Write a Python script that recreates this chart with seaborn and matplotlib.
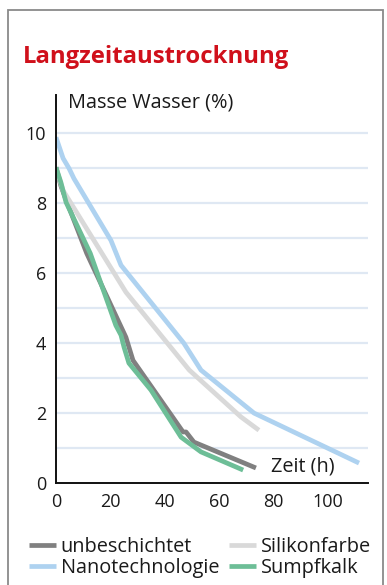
import pandas as pd
import seaborn as sns
import matplotlib.pyplot as plt
from matplotlib.patches import Rectangle

# Masse Wasser (%) ueber Zeit (h)
unbeschichtet_x = [0, 1.8, 3.7, 11.3, 25.7, 28.3, 46.7, 47.8, 50.7, 73.5]
unbeschichtet_y = [9.03, 8.5, 8.1, 6.57, 4.17, 3.51, 1.46, 1.46, 1.17, 0.43]

silikon_x = [0, 2.6, 25.7, 49, 68, 74.6]
silikon_y = [9.0, 8.37, 5.46, 3.23, 1.89, 1.51]

nano_x = [0, 2.6, 4.8, 6.6, 20.2, 23.9, 47, 53.3, 72.8, 111.4]
nano_y = [9.89, 9.29, 9.0, 8.71, 6.94, 6.23, 4.0, 3.23, 2.0, 0.57]

sumpf_x = [0, 1.8, 3.7, 12.6, 22, 23.9, 25, 26.8, 34.9, 46, 53.3, 68.8]
sumpf_y = [9.03, 8.6, 8.03, 6.57, 4.51, 4.23, 3.89, 3.43, 2.66, 1.31, 0.89, 0.37]

series = ["unbeschichtet", "Silikonfarbe", "Nanotechnologie", "Sumpfkalk"]
colors = ["#808080", "#d9d9d9", "#aed2f0", "#6dbe97"]
legend_order = ["unbeschichtet", "Nanotechnologie", "Silikonfarbe", "Sumpfkalk"]

y_ticks = [0, 2, 4, 6, 8, 10]
x_ticks = [0, 20, 40, 60, 80, 100]

frames = []
for name, xs, ys in zip(series,
                        [unbeschichtet_x, silikon_x, nano_x, sumpf_x],
                        [unbeschichtet_y, silikon_y, nano_y, sumpf_y]):
    frames.append(pd.DataFrame({"Zeit": xs, "Masse": ys, "Serie": name}))
df = pd.concat(frames, ignore_index=True)

sns.set_style("white")
plt.rcParams["font.family"] = ["Open Sans", "DejaVu Sans"]

fig = plt.figure(figsize=(3.87, 5.85), dpi=100)
ax = fig.add_axes([56 / 387, 102 / 585, 312 / 387, 388 / 585])

# gridlines every 1 %
for v in range(1, 11):
    ax.axhline(v, color="#dfe8f3", lw=1.6, zorder=0)

sns.lineplot(data=df, x="Zeit", y="Masse", hue="Serie", hue_order=series,
             palette=colors, estimator=None, sort=False, lw=3.4,
             ax=ax, legend=False, solid_capstyle="butt")

ax.set_xlim(0, 114.7)
ax.set_ylim(0, 11.1)
ax.set_xticks(x_ticks)
ax.set_yticks(y_ticks)
ax.tick_params(length=0, labelsize=13, colors="#1a1a1a", pad=7)
ax.set_xlabel("")
ax.set_ylabel("")
for side in ["top", "right"]:
    ax.spines[side].set_visible(False)
for side in ["left", "bottom"]:
    ax.spines[side].set_color("#111111")
    ax.spines[side].set_linewidth(1.4)

ax.text(4.5, 10.88, "Masse Wasser (%)", fontsize=14.3, color="#1a1a1a",
        va="center", ha="left", clip_on=False)
ax.text(79, 0.46, "Zeit (h)", fontsize=14.3, color="#1a1a1a",
        va="center", ha="left")

fig.text(23 / 387, 1 - 57 / 585, "Langzeitaustrocknung", fontsize=17.2,
         fontweight="bold", color="#d0101b", va="center", ha="left")

# outer frame
fig.patches.append(Rectangle((8 / 387, -0.05), 375 / 387, 1.05 - 10 / 585,
                             transform=fig.transFigure, fill=False,
                             edgecolor="#8a8a8a", lw=1.3))

handles = []
for name in legend_order:
    c = colors[series.index(name)]
    handles.append(plt.Line2D([], [], color=c, lw=3.4, solid_capstyle="butt"))
fig.legend(handles, legend_order, ncol=2, frameon=False, fontsize=14.3,
           loc="upper left", bbox_to_anchor=(29 / 387, 1 - 537 / 585),
           borderpad=0, borderaxespad=0, handlelength=1.35,
           handletextpad=0.25, columnspacing=0.5, labelspacing=0.06,
           labelcolor="#1a1a1a")

fig.savefig("out.png", dpi=100)
